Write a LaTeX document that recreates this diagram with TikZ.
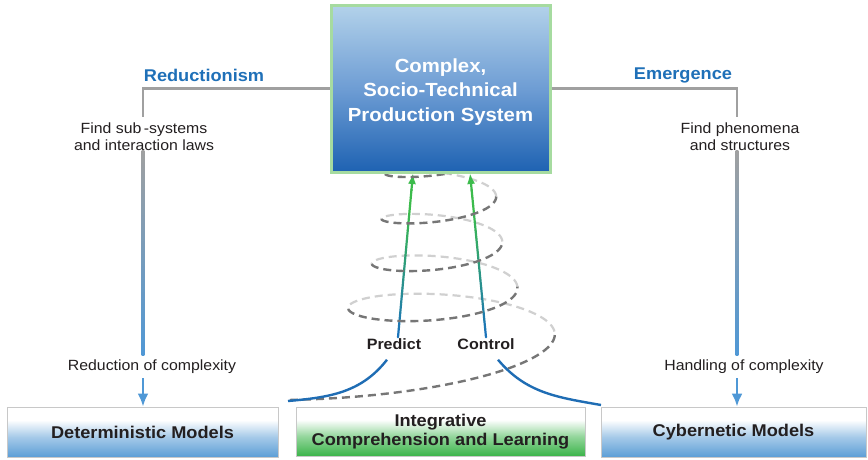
\documentclass[tikz,border=0pt]{standalone}
\usepackage{fontspec}
\setmainfont{Liberation Sans}[FakeStretch=1.07]
\usetikzlibrary{arrows.meta,calc}
\definecolor{topL}{HTML}{B3D2EA}
\definecolor{topM}{HTML}{6E9DD4}
\definecolor{topD}{HTML}{1E62B2}
\definecolor{glow}{HTML}{A6DBA0}
\definecolor{gline}{HTML}{A0A0A0}
\definecolor{lblue}{HTML}{4F98D6}
\definecolor{tblue}{HTML}{1F70B8}
\definecolor{bblue}{HTML}{5C9ED6}
\definecolor{bgreen}{HTML}{3BB44A}
\definecolor{cblue}{HTML}{1F6DB4}
\definecolor{agreen}{HTML}{3CBB4C}
\definecolor{ablue}{HTML}{1C74BA}
\definecolor{sfront}{HTML}{767676}
\definecolor{sback}{HTML}{D0D0D0}
\definecolor{txt}{HTML}{231F20}
\definecolor{bdr}{HTML}{C8C8C8}
\pgfdeclareverticalshading{bshade}{100bp}{color(0bp)=(bblue); color(25bp)=(bblue); color(45bp)=(bblue!55!white); color(62bp)=(white); color(100bp)=(white)}
\pgfdeclareverticalshading{gshade}{100bp}{color(0bp)=(bgreen); color(25bp)=(bgreen); color(45bp)=(bgreen!55!white); color(62bp)=(white); color(100bp)=(white)}
\begin{document}
\begin{tikzpicture}[x=1pt,y=-1pt,
  declare function={
    rxf(\t)=52+98*exp(-0.9*\t);
    ryf(\t)=10+25*exp(-0.6*\t);
    cyf(\t)=354-45*\t+46*max(0,1-2*\t)^2;
    sx(\t)=440-rxf(\t)*cos(360*\t);
    sy(\t)=cyf(\t)+ryf(\t)*sin(360*\t);
  },
  bottombox/.style={draw=bdr, line width=0.8pt, font=\fontsize{17}{19.5}\selectfont\bfseries, text=txt, align=center, inner sep=0pt},
  sysbox/.style={draw=glow, line width=3pt, top color=topL, bottom color=topD, middle color=topM, inner sep=0pt},
  systext/.style={text=white, font=\fontsize{19}{24.5}\selectfont\bfseries, align=center, inner sep=0pt},
  headlbl/.style={text=tblue, font=\fontsize{17}{20}\selectfont\bfseries},
  steplbl/.style={text=txt, font=\fontsize{14.8}{17}\selectfont, align=center, inner sep=2pt},
  actlbl/.style={text=txt, font=\fontsize{15}{18}\selectfont\bfseries, inner sep=1pt},
  grayline/.style={draw=gline, line width=2.6pt},
  bluearrow/.style={draw=lblue, line width=2.8pt, -{Latex[length=13pt,width=11pt]}},
  bluecurve/.style={draw=cblue, line width=2.4pt},
  spiralfront/.style={draw=sfront, line width=2.4pt, dash pattern=on 8pt off 5pt},
  spiralback/.style={draw=sback, line width=2.2pt, dash pattern=on 8pt off 5pt},
]
\useasboundingbox (0,0) rectangle (868,459);
\fill[white] (0,0) rectangle (868,459);

% bottom boxes
\node[bottombox, shading=bshade, minimum width=271pt, minimum height=50pt] (det) at (142.5,432) {Deterministic Models};
\node[bottombox, shading=gshade, minimum width=289pt, minimum height=49pt] (int) at (440.5,431.5) {Integrative\\Comprehension and Learning};
\node[bottombox, shading=bshade, minimum width=265pt, minimum height=50pt] (cyb) at (733.5,432) {Cybernetic Models};

% labels
\node[headlbl] (red) at (204,75) {Reductionism};
\node[headlbl] (emg) at (683,75) {Emergence};
\node[steplbl] (find1) at (144,137) {Find sub\,-systems\\and interaction laws};
\node[steplbl] (find2) at (740,137) {Find phenomena\\and structures};
\node[steplbl] (red1) at (152,367) {Reduction of complexity};
\node[steplbl] (red2) at (744,367) {Handling of complexity};
\node[actlbl] (pred) at (394,344) {Predict};
\node[actlbl] (ctrl) at (486,344) {Control};

\coordinate (lx) at (143,0);
\coordinate (rx) at (737,0);

% spiral back arcs
\foreach \k in {1,3,5,7}{
  \pgfmathsetmacro\ta{\k/2}
  \pgfmathsetmacro\tb{(\k+1)/2}
  \draw[spiralback] plot[domain=\ta:\tb, samples=40, variable=\t, smooth] ({sx(\t)},{sy(\t)});
}

% gradient arrows Predict / Control
\coordinate (pa) at ([xshift=4pt]pred.north);
\coordinate (pb) at (413,173);
\coordinate (qa) at (ctrl.north);
\coordinate (qb) at (470,173);
\foreach \i in {0,...,17}{
  \pgfmathsetmacro\sa{\i/20}
  \pgfmathsetmacro\sb{(\i+1)/20}
  \pgfmathtruncatemacro\pc{min(100,135*\i/20)}
  \draw[line width=2.2pt, line cap=round, color=agreen!\pc!ablue] ($(pa)!\sa!(pb)$) -- ($(pa)!\sb!(pb)$);
  \draw[line width=2.2pt, line cap=round, color=agreen!\pc!ablue] ($(qa)!\sa!(qb)$) -- ($(qa)!\sb!(qb)$);
}
\draw[line width=2.2pt, agreen, -{Latex[length=11pt,width=8pt]}] ($(pa)!0.89!(pb)$) -- (pb);
\draw[line width=2.2pt, agreen, -{Latex[length=11pt,width=8pt]}] ($(qa)!0.89!(qb)$) -- (qb);

% spiral front arcs
\foreach \k in {0,2,4,6,8}{
  \pgfmathsetmacro\ta{\k/2}
  \pgfmathsetmacro\tb{(\k+1)/2}
  \draw[spiralfront] plot[domain=\ta:\tb, samples=40, variable=\t, smooth] ({sx(\t)},{sy(\t)});
}

% top system box
\node[sysbox, minimum width=219pt, minimum height=167pt] (sys) at (440.5,88.5) {};
\node[systext] (systxt) at (440.5,92) {Complex,\\Socio-Technical\\Production System};

% gray connectors
\draw[grayline] (sys.west) -| ([yshift=4pt]find1.north -| lx);
\draw[grayline] (sys.east) -| ([yshift=4pt]find2.north -| rx);
\shade[top color=gline, bottom color=lblue] ($(find1.south -| lx)+(-1.3,-3)$) rectangle ($(red1.north -| lx)+(1.3,-2)$);
\shade[top color=gline, bottom color=lblue] ($(find2.south -| rx)+(-1.3,-3)$) rectangle ($(red2.north -| rx)+(1.3,-2)$);
\draw[bluearrow] ([yshift=-2pt]red1.south -| lx) -- (det.north -| lx);
\draw[bluearrow] ([yshift=-2pt]red2.south -| rx) -- (cyb.north -| rx);

% blue funnel curves
\coordinate (cl) at (288,401);
\coordinate (cr) at (601,405);
\draw[bluecurve] ([xshift=-7pt,yshift=-9pt]pred.south) to[out=-128,in=5] (cl);
\draw[bluecurve] ([xshift=12pt,yshift=-9pt]ctrl.south) to[out=-50,in=170] (cr);
\end{tikzpicture}
\end{document}
